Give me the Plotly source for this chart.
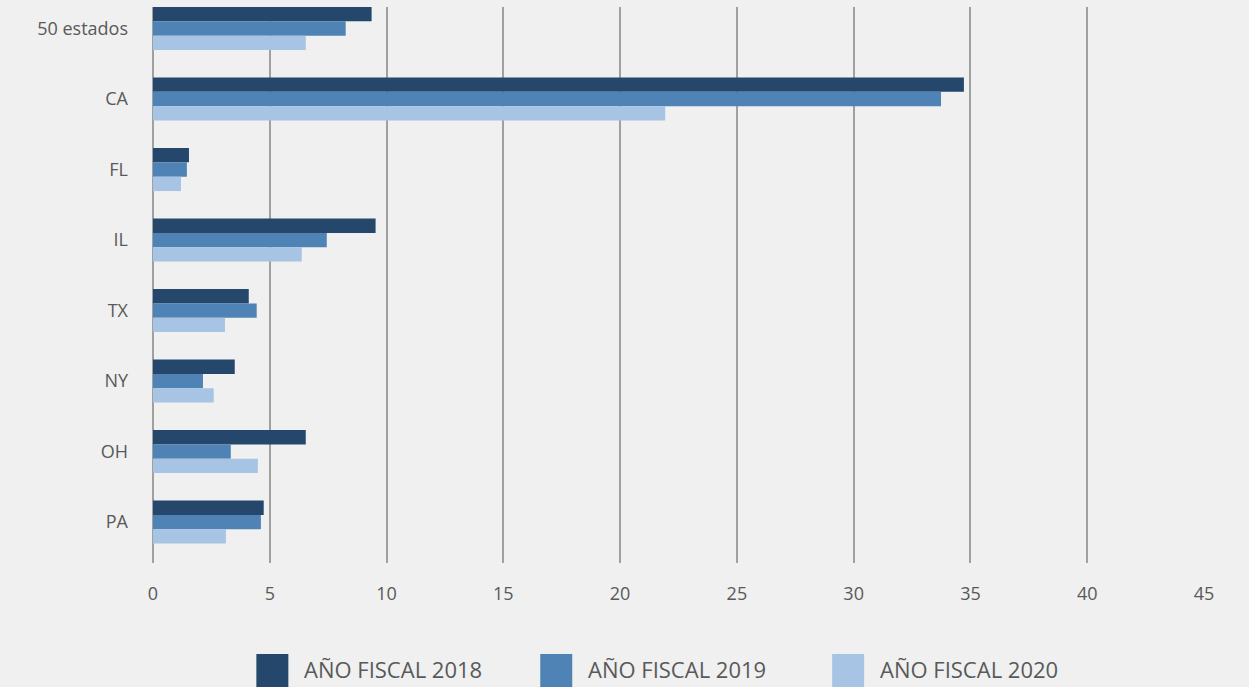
import plotly.graph_objects as go

# data (percent)
states = ["50 estados", "CA", "FL", "IL", "TX", "NY", "OH", "PA"]
fy2018 = [9.36, 34.72, 1.54, 9.53, 4.10, 3.50, 6.54, 4.74]
fy2019 = [8.25, 33.74, 1.45, 7.44, 4.44, 2.14, 3.33, 4.62]
fy2020 = [6.54, 21.93, 1.20, 6.37, 3.08, 2.60, 4.49, 3.12]
series_names = ["AÑO FISCAL 2018", "AÑO FISCAL 2019", "AÑO FISCAL 2020"]
colors = ["#24476B", "#4F83B5", "#A7C4E4"]
x_ticks = [0, 5, 10, 15, 20, 25, 30, 35, 40, 45]

W, H = 1249, 687
L, R, T, B = 152.6, 45, 7, 124
FONT = "Open Sans, Lato, sans-serif"
TXT = "#595959"

fig = go.Figure()
for name, vals, col in zip(series_names, [fy2018, fy2019, fy2020], colors):
    fig.add_trace(go.Bar(
        y=states, x=vals, name=name, orientation="h",
        marker=dict(color=col, line=dict(width=0)),
        showlegend=False,
    ))

# hand-drawn legend (large square swatches like the original)
plot_w = W - L - R
plot_h = H - T - B


def px_x(p):
    return (p - L) / plot_w


def px_y(p):
    return (H - B - p) / plot_h


legend_x = [256, 540, 832]
shapes = []
annotations = []
for lx, name, col in zip(legend_x, series_names, colors):
    shapes.append(dict(type="rect", xref="paper", yref="paper",
                       x0=px_x(lx), x1=px_x(lx + 32),
                       y0=px_y(654), y1=px_y(690),
                       fillcolor=col, line=dict(width=0), layer="above"))
    annotations.append(dict(xref="paper", yref="paper",
                            x=px_x(lx + 46), y=px_y(669),
                            xanchor="left", yanchor="middle",
                            text=name, showarrow=False,
                            font=dict(family=FONT, size=22, color=TXT)))

fig.update_layout(
    width=W, height=H,
    barmode="group", bargap=0.39, bargroupgap=0,
    paper_bgcolor="#EFF0EF", plot_bgcolor="#EFF0EF",
    margin=dict(l=L, r=R, t=T, b=B, pad=0),
    font=dict(family=FONT, color=TXT),
    shapes=shapes, annotations=annotations,
    showlegend=False,
)
fig.update_xaxes(
    range=[0, 45], tickvals=x_ticks,
    showgrid=True, gridcolor="#A0A0A0", gridwidth=1.5,
    zeroline=True, zerolinecolor="#A0A0A0", zerolinewidth=1.5,
    showline=False, ticks="", ticklabelstandoff=18,
    tickfont=dict(family=FONT, size=18, color=TXT),
)
fig.update_yaxes(
    range=[7.58, -0.305], showgrid=False, zeroline=False, showline=False,
    ticks="", ticklabelstandoff=24,
    tickfont=dict(family=FONT, size=18, color=TXT),
)

fig.write_html(
    "out.html",
    config={"displayModeBar": False},
    post_script="document.body.style.margin='0';document.body.style.overflow='hidden';",
)
